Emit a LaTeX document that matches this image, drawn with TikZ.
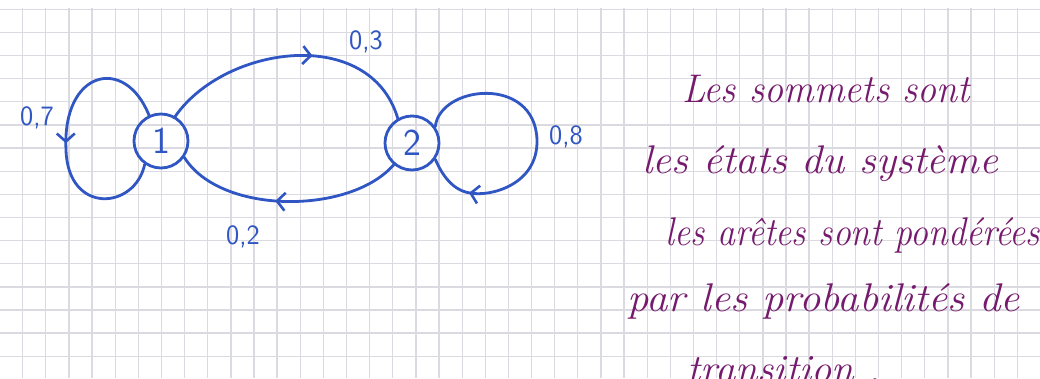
\documentclass[tikz,border=0pt]{standalone}
\usepackage{fontspec}
\usepackage{graphicx}
\usetikzlibrary{arrows.meta,decorations.markings}
\definecolor{ink}{RGB}{48,86,196}
\definecolor{plum}{RGB}{118,26,110}
\definecolor{gridc}{RGB}{218,218,224}
\begin{document}
\begin{tikzpicture}[x=1pt,y=-1pt,
  gridline/.style={draw=gridc, line width=1.3pt},
  state/.style={circle, draw=ink, line width=2.8pt, minimum size=54pt, inner sep=0pt, text=ink, font=\fontsize{38}{38}\selectfont\sffamily},
  edge/.style={draw=ink, line width=2.8pt, line cap=round},
  lbl/.style={text=ink, inner sep=0pt, font=\fontsize{28}{28}\selectfont\sffamily},
  note/.style={text=plum, anchor=base west, inner sep=0pt, font=\fontsize{40}{40}\selectfont\itshape},
  midarrow/.style={postaction={decorate}, decoration={markings, mark=at position #1 with {\arrow[ink, line width=2.6pt]{Straight Barb[length=8pt,width=18pt]}}}}
]
\clip (0,0) rectangle (1040,378);
\fill[white] (0,0) rectangle (1040,378);
\foreach \i in {0,...,45} {\draw[gridline] ({22.7+23.13*(\i-1)},8) -- ({22.7+23.13*(\i-1)},378);}
\foreach \j in {0,...,16} {\draw[gridline] (0,{9.3+23.13*\j}) -- (1040,{9.3+23.13*\j});}

% states
\node[state] (n1) at (161,141) {1};
\node[state] (n2) at (412,143) {2};

% edges
\draw[edge, midarrow=0.58] (n1.60) .. controls (225,45) and (370,25) .. (n2.120);
\draw[edge, midarrow=0.55] (n2.230) .. controls (350,215) and (220,215) .. (n1.-35);
\draw[edge, midarrow=0.52] (n1.115) .. controls (125,55) and (62,70) .. (66,150) .. controls (68,215) and (135,210) .. (n1.235);
\draw[edge, midarrow=0.83] (n2.35) .. controls (440,85) and (535,75) .. (537,140) .. controls (538,185) and (490,197) .. (470,193) .. controls (450,190) and (440,170) .. (n2.-35);

% labels
\node[lbl] (l7) at (37,118) {0,7};
\node[lbl] (l3) at (366,42) {0,3};
\node[lbl] (l8) at (566,137) {0,8};
\node[lbl] (l2) at (243,237) {0,2};

% notes
\node[note] (t1) at (682,102) {\resizebox{288pt}{\height}{Les sommets sont}};
\node[note] (t2) at (642,173) {\resizebox{356pt}{\height}{les états du système}};
\node[note] (t3) at (665,245) {\resizebox{375pt}{\height}{les arêtes sont pondérées}};
\node[note] (t4) at (627,311) {\resizebox{393pt}{\height}{par les probabilités de}};
\node[note] (t5) at (687,382) {\resizebox{193pt}{\height}{transition .}};
\end{tikzpicture}
\end{document}
